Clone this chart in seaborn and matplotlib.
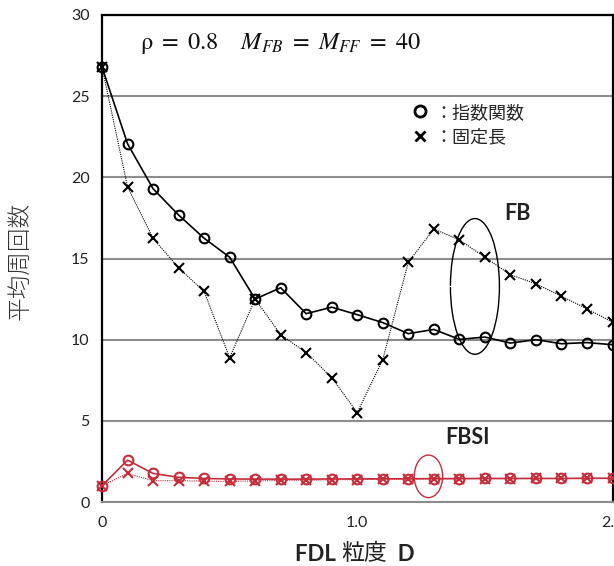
import numpy as np
import pandas as pd
import matplotlib
matplotlib.use('Agg')
import matplotlib.pyplot as plt
import seaborn as sns
from matplotlib.patches import Ellipse, Arc
from matplotlib.lines import Line2D
from matplotlib.ticker import MultipleLocator

sns.set_theme(style='white')
plt.rcParams['font.family'] = ['Lato', 'Noto Sans CJK JP', 'DejaVu Sans']
plt.rcParams['mathtext.fontset'] = 'stix'

# FDL granularity D
d_values = [0.0, 0.1, 0.2, 0.3, 0.4, 0.5, 0.6, 0.7, 0.8, 0.9, 1.0,
            1.1, 1.2, 1.3, 1.4, 1.5, 1.6, 1.7, 1.8, 1.9, 2.0]

# FB, exponential (circles) and fixed length (crosses)
fb_exp = [26.8, 22.07, 19.3, 17.68, 16.25, 15.08, 12.5, 13.2, 11.6, 12.0, 11.54,
          11.05, 10.37, 10.63, 10.02, 10.16, 9.79, 10.0, 9.75, 9.82, 9.69]
fb_fix = [26.8, 19.42, 16.25, 14.42, 12.97, 8.89, 12.5, 10.31, 9.2, 7.66, 5.51,
          8.77, 14.77, 16.82, 16.15, 15.08, 14.0, 13.44, 12.68, 11.9, 11.08]

# FBSI
fbsi_exp = [1.0, 2.58, 1.76, 1.52, 1.45, 1.42, 1.41, 1.41, 1.41, 1.42, 1.42,
            1.43, 1.43, 1.44, 1.44, 1.45, 1.45, 1.45, 1.45, 1.46, 1.46]
fbsi_fix = [1.0, 1.76, 1.31, 1.32, 1.28, 1.27, 1.3, 1.33, 1.35, 1.37, 1.38,
            1.4, 1.41, 1.42, 1.43, 1.44, 1.44, 1.45, 1.45, 1.45, 1.46]

y_ticks = [0, 5, 10, 15, 20, 25, 30]
x_ticks = [0.0, 1.0, 2.0]
x_tick_labels = ['0', '1.0', '2.0']

black = '#000000'
red = '#c62d3a'
grid_gray = '#8c8c8c'

fig = plt.figure(figsize=(6.14, 5.66), dpi=100)
ax = fig.add_axes([102 / 614, 64 / 566, 510.5 / 614, 487 / 566])

series = [
    (fb_exp, black, 'o', '-', 1.2),
    (fb_fix, black, 'x', (0, (1, 1)), 0.8),
    (fbsi_exp, red, 'o', '-', 1.2),
    (fbsi_fix, red, 'x', (0, (1, 1)), 0.8),
]
for vals, col, mk, ls, lw in series:
    df = pd.DataFrame({'D': d_values, 'v': vals})
    sns.lineplot(data=df, x='D', y='v', ax=ax, color=col, marker=mk,
                 linestyle=ls, linewidth=lw, markersize=7,
                 markerfacecolor='none', markeredgecolor=col,
                 markeredgewidth=1.5, sort=False, errorbar=None,
                 clip_on=False, zorder=3)

ax.set_xlim(0, 2.0)
ax.set_ylim(0, 30)
ax.set_yticks(y_ticks)
ax.set_xticks(x_ticks)
ax.set_xticklabels(x_tick_labels)
ax.xaxis.set_minor_locator(MultipleLocator(0.2))

ax.yaxis.grid(True, color=grid_gray, linewidth=1.5)
ax.set_axisbelow(True)

for side in ['left', 'top', 'right']:
    ax.spines[side].set_color(black)
    ax.spines[side].set_linewidth(1.6)
ax.spines['bottom'].set_color(grid_gray)
ax.spines['bottom'].set_linewidth(1.5)

ax.tick_params(axis='x', which='both', direction='in', length=4, width=1,
               color=grid_gray, labelsize=11.5, pad=10, labelcolor='#222222')
ax.tick_params(axis='y', direction='in', length=4, width=1, color=black,
               labelsize=11.5, pad=9, labelcolor='#222222')

ax.set_ylabel('平均周回数', fontsize=17, family=['Noto Sans CJK JP'],
              fontweight='light', color='#333333')
ax.yaxis.set_label_coords(-0.137, 0.495)

ax.set_xlabel('粒度', fontsize=16.5, family=['Noto Sans CJK JP'], color='#222222')
ax.xaxis.set_label_coords(0.514, -0.082)
lab = ax.xaxis.label
ax.annotate('FDL ', xy=(0, 0.45), xycoords=lab, ha='right', va='center',
            fontsize=16, fontweight='bold', color='#222222')
ax.annotate('  D', xy=(1, 0.45), xycoords=lab, ha='left', va='center',
            fontsize=16, fontweight='bold', color='#222222')

ax.text(0.149, 28.27, r'$\mathrm{\rho}\ =\ 0.8\quad\ M_{FB}\ =\ M_{FF}\ =\ 40$',
        fontsize=17.5, ha='left', va='center', color='#111111')

ax.text(1.627, 17.76, 'FB', fontsize=15.5, fontweight='bold', ha='center',
        va='center', color='#222222')
ax.text(1.431, 4.0, 'FBSI', fontsize=15.5, fontweight='bold', ha='center',
        va='center', color='#222222')

# highlight ellipses
ax.add_patch(Arc((1.461, 13.28), 0.192, 8.36, theta1=-159, theta2=159,
                 color=black, linewidth=1.0, zorder=4))
ax.add_patch(Ellipse((1.279, 1.58), 0.111, 2.62, fill=False, edgecolor=red,
                     linewidth=1.0, zorder=4))

handles = [Line2D([], [], color=black, marker='o', ls='none', markersize=8,
                  markerfacecolor='none', markeredgewidth=2),
           Line2D([], [], color=black, marker='x', ls='none', markersize=7,
                  markeredgewidth=2)]
ax.legend(handles, ['：指数関数', '：固定長'], loc='upper left',
          bbox_to_anchor=(0.606, 0.818), frameon=False, fontsize=13,
          handlelength=1.0, handletextpad=0.25, borderpad=0, borderaxespad=0,
          labelspacing=0.45)

fig.savefig('out.png', dpi=100)
